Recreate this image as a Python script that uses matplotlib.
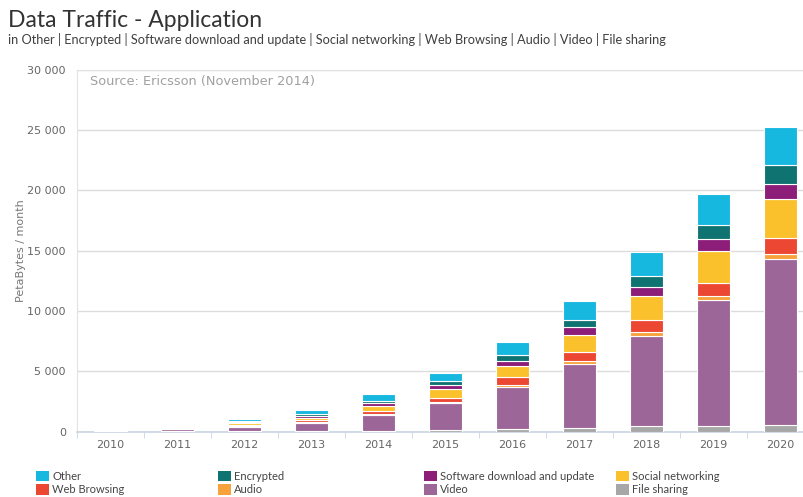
import matplotlib.pyplot as plt
import numpy as np
from matplotlib.ticker import FuncFormatter
from matplotlib.patches import Patch

years = ["2010", "2011", "2012", "2013", "2014", "2015", "2016", "2017", "2018", "2019", "2020"]

# PetaBytes / month (bottom to top of each stack)
file_sharing = [20, 20, 30, 40, 50, 100, 200, 300, 420, 420, 550]
video = [60, 190, 380, 660, 1320, 2270, 3490, 5320, 7530, 10480, 13750]
audio = [10, 30, 50, 120, 100, 110, 190, 250, 330, 360, 440]
web_browsing = [10, 50, 100, 120, 230, 330, 610, 720, 970, 1090, 1330]
social_networking = [15, 60, 150, 220, 440, 720, 940, 1410, 1970, 2630, 3260]
software_update = [10, 40, 80, 160, 200, 300, 420, 640, 750, 960, 1240]
encrypted = [10, 40, 70, 160, 200, 330, 500, 640, 970, 1190, 1550]
other = [15, 80, 160, 290, 560, 720, 1080, 1520, 1990, 2590, 3150]

series = [
    ("File sharing", file_sharing, "#a7a7a7"),
    ("Video", video, "#9d6699"),
    ("Audio", audio, "#f7a23c"),
    ("Web Browsing", web_browsing, "#eb4733"),
    ("Social networking", social_networking, "#fbc12d"),
    ("Software download and update", software_update, "#8c1d78"),
    ("Encrypted", encrypted, "#0f7371"),
    ("Other", other, "#17b8e0"),
]
colors = {name: c for name, _, c in series}

plt.rcParams['font.family'] = ['Lato', 'DejaVu Sans']

fig = plt.figure(figsize=(8.04, 4.97), dpi=100)
ax = fig.add_axes([77 / 804, 1 - 431.5 / 497, 737 / 804, 361.5 / 497])

x = np.arange(len(years))
bottom = np.zeros(len(years))
for name, vals, col in series:
    ax.bar(x, vals, 0.48, bottom=bottom, color=col, edgecolor="white", linewidth=0.8, zorder=3)
    bottom += np.array(vals)

ax.set_xlim(-0.5, len(years) - 0.5)
ax.set_ylim(0, 30000)
ax.set_yticks(np.arange(0, 30001, 5000))
ax.yaxis.set_major_formatter(FuncFormatter(lambda v, p: f"{int(v):,}".replace(",", " ")))
ax.grid(axis="y", color="#dcdcdc", linewidth=1, zorder=0)
ax.set_xticks(x)
ax.set_xticklabels(years)
ax.set_xticks(np.arange(-0.5, len(years), 1), minor=True)
ax.tick_params(axis="x", which="major", length=0, pad=6, labelsize=8, labelcolor="#666666")
ax.tick_params(axis="x", which="minor", length=4, color="#c8d4e0")
ax.tick_params(axis="y", length=0, pad=8, labelsize=8, labelcolor="#666666")
for lab in ax.get_xticklabels() + ax.get_yticklabels():
    lab.set_family("DejaVu Sans")
for s in ["top", "left", "right"]:
    ax.spines[s].set_color("#e2e2e2")
ax.spines["bottom"].set_color("#c8d4e0")
ax.spines["bottom"].set_linewidth(1.2)

ax.set_ylabel("PetaBytes / month", fontsize=8, color="#777777", family="DejaVu Sans", labelpad=1)
ax.text(0.018, 0.985, "Source: Ericsson (November 2014)", transform=ax.transAxes,
        ha="left", va="top", fontsize=9.3, color="#a0a0a0", family="DejaVu Sans")

fig.text(8 / 804, 1 - 27 / 497, "Data Traffic - Application", fontsize=16.5, color="#333333")
fig.text(8 / 804, 1 - 44 / 497,
         "in Other | Encrypted | Software download and update | Social networking | Web Browsing | Audio | Video | File sharing",
         fontsize=9.2, color="#404040")

# legend: four columns of two entries
legend_cols = [("Other", "Web Browsing"), ("Encrypted", "Audio"),
               ("Software download and update", "Video"), ("Social networking", "File sharing")]
col_x = [30, 212, 418, 610]
for names, lx in zip(legend_cols, col_x):
    handles = [Patch(facecolor=colors[n], edgecolor="none", label=n) for n in names]
    fig.legend(handles=handles, loc="upper left", bbox_to_anchor=(lx / 804, 1 - 465 / 497),
               frameon=False, fontsize=8, handlelength=1.2, handleheight=1.1,
               handletextpad=0.3, labelspacing=0.2, borderpad=0, labelcolor="#444444")

fig.savefig("out.png", dpi=100)
